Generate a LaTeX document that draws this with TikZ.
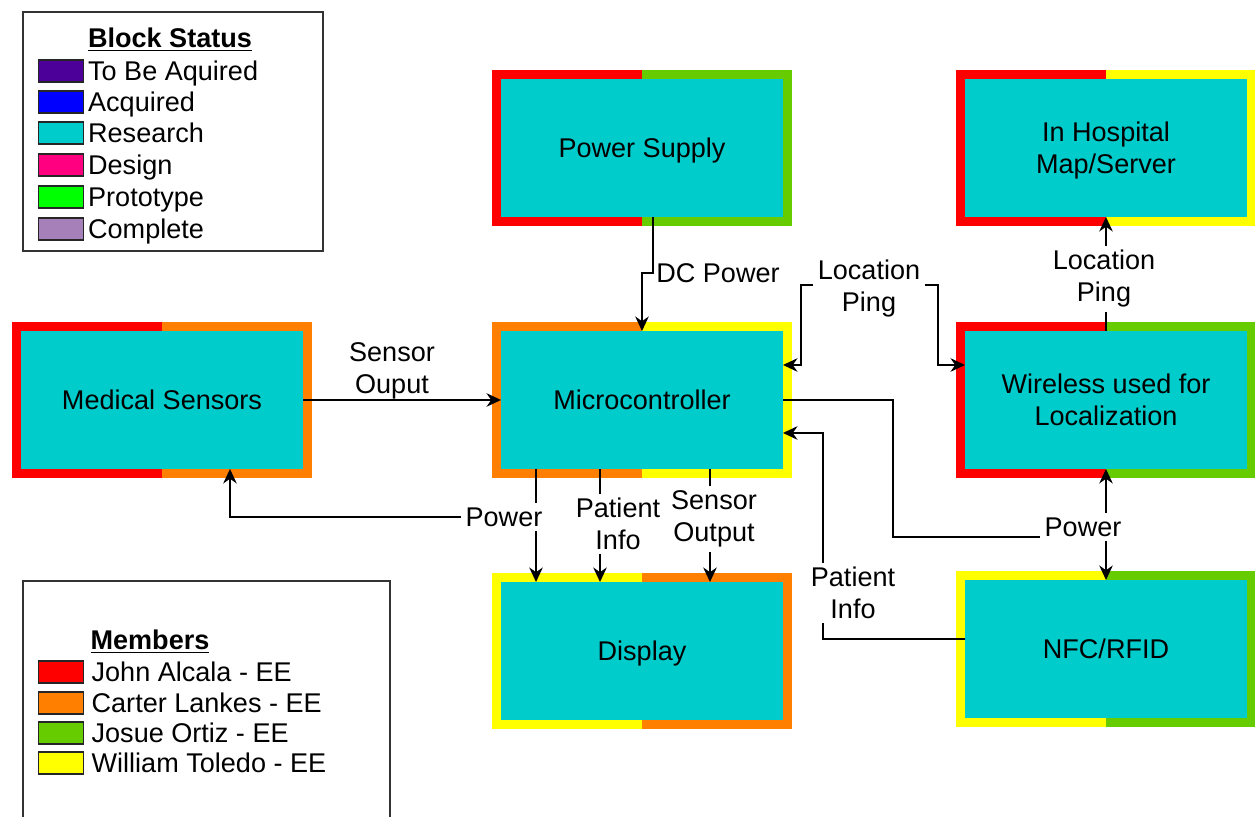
\documentclass[tikz,border=0pt]{standalone}
\usepackage{fontspec}
\setmainfont{Liberation Sans}
\usetikzlibrary{arrows.meta, positioning, calc}
\definecolor{bcyan}{HTML}{00CCCC}
\definecolor{mred}{HTML}{FF0000}
\definecolor{morange}{HTML}{FF8000}
\definecolor{mgreen}{HTML}{66CC00}
\definecolor{myellow}{HTML}{FFFF00}
\definecolor{stindigo}{HTML}{4C0099}
\definecolor{stblue}{HTML}{0000FF}
\definecolor{stpink}{HTML}{FF0080}
\definecolor{stlime}{HTML}{00FF00}
\definecolor{stlilac}{HTML}{A680B8}
\newcommand{\diagfont}{\fontsize{15.4}{18.2}\selectfont}
% two-coloured frame round a block: left half, right half
\newcommand{\splitborder}[3]{%
  \draw[line width=0.18cm, line join=miter, #2]
    ([yshift=0.09cm]#1.north) -- ([shift={(-0.09cm,0.09cm)}]#1.north west)
    -- ([shift={(-0.09cm,-0.09cm)}]#1.south west) -- ([yshift=-0.09cm]#1.south);
  \draw[line width=0.18cm, line join=miter, #3]
    ([yshift=0.09cm]#1.north) -- ([shift={(0.09cm,0.09cm)}]#1.north east)
    -- ([shift={(0.09cm,-0.09cm)}]#1.south east) -- ([yshift=-0.09cm]#1.south);}
\tikzset{
  blockbox/.style={fill=bcyan, minimum width=5.64cm, minimum height=2.76cm,
                   inner sep=0pt, outer sep=0pt, align=center, text depth=0pt},
  lbl/.style={fill=white, inner sep=2.5pt, align=center},
  swatch/.style={draw=black!85, line width=0.9pt, minimum width=0.9cm,
                 minimum height=0.44cm, inner sep=0pt},
  legtext/.style={inner sep=1pt, text depth=0pt},
  arr/.style={-{Stealth[length=2.9mm, width=2.7mm]}, line width=1.1pt},
  darr/.style={{Stealth[length=2.9mm, width=2.7mm]}-{Stealth[length=2.9mm, width=2.7mm]},
               line width=1.1pt},
}
\begin{document}
\begin{tikzpicture}[x=0.02cm, y=0.02cm, every node/.style={font=\diagfont}]
  \useasboundingbox (0,0) rectangle (1255,817);
  % blocks
  \node[blockbox] (ps) at (642,669) {Power Supply};
  \node[blockbox] (mcu) at (642,417) {Microcontroller};
  \node[blockbox] (sens) at (162,417) {Medical Sensors};
  \node[blockbox] (disp) at (642,166) {Display};
  \node[blockbox] (map) at (1106,669) {In Hospital\\Map/Server};
  \node[blockbox] (wifi) at (1106,417) {Wireless used for\\Localization};
  \node[blockbox] (nfc) at (1106,168) {NFC/RFID};
  \splitborder{ps}{mred}{mgreen}
  \splitborder{mcu}{morange}{myellow}
  \splitborder{sens}{mred}{morange}
  \splitborder{disp}{myellow}{morange}
  \splitborder{map}{mred}{myellow}
  \splitborder{wifi}{mred}{mgreen}
  \splitborder{nfc}{myellow}{mgreen}

  % connectors
  \draw[arr] ([xshift=0.22cm]ps.south) -- ++(0,-56) -| (mcu.north);
  \draw[arr] (sens.east) -- (mcu.west);
  \coordinate (pwrknee) at (536,300);
  \draw[arr] ([xshift=-2.12cm]mcu.south) -- (pwrknee) -| ([xshift=1.36cm]sens.south);
  \draw[arr] ([xshift=-2.12cm]mcu.south) -- ([xshift=-2.12cm]disp.north);
  \draw[arr] ([xshift=-0.84cm]mcu.south) -- ([xshift=-0.84cm]disp.north);
  \draw[arr] ([xshift=1.36cm]mcu.south) -- ([xshift=1.36cm]disp.north);
  \draw[darr] ([yshift=0.7cm]mcu.east) -| (801,532) -- (938,532) |- ([yshift=0.7cm]wifi.west);
  \draw[arr] (wifi.north) -- (map.south);
  \coordinate (pwrhub) at (1106,280);
  \draw[arr] (mcu.east) -- ++(110,0) |- (pwrhub) -- (wifi.south);
  \draw[arr] (pwrhub) -- (nfc.north);
  \coordinate (pinfo) at (823,384);
  \draw[arr] ([yshift=0.2cm]nfc.west) -| (pinfo) -- ([yshift=-0.66cm]mcu.east);

  % connector labels
  \node[anchor=west, inner sep=0pt] (lbldc) at (656,544) {DC Power};
  \node[align=center, inner sep=0pt] (lblsens) at (392,446) {Sensor\\Ouput};
  \node[lbl] (lblpwr) at (504,300) {Power};
  \node[lbl] (lblpinfo) at (618,293) {Patient\\Info};
  \node[lbl] (lblsout) at (714,298) {Sensor\\Output};
  \node[lbl] (lblloc) at (869,528) {Location\\Ping};
  \node[lbl] (lblloc2) at (1104,538) {Location\\Ping};
  \node[lbl] (lblpwr2) at (1083,290) {Power};
  \node[lbl] (lblpinfo2) at (853,224) {Patient\\Info};

  % legend: block status
  \draw[line width=1.1pt, black!80] (23,805) rectangle (323,566);
  \node (sttitle) at (170,777) {\underline{\textbf{Block Status}}};
  \node[swatch, fill=stindigo] (sw1) at (61,746) {};
  \node[legtext, right=1pt of sw1] (st1) {To Be Aquired};
  \node[swatch, fill=stblue] (sw2) at (61,715) {};
  \node[legtext, right=1pt of sw2] (st2) {Acquired};
  \node[swatch, fill=bcyan] (sw3) at (61,684) {};
  \node[legtext, right=1pt of sw3] (st3) {Research};
  \node[swatch, fill=stpink] (sw4) at (61,652) {};
  \node[legtext, right=1pt of sw4] (st4) {Design};
  \node[swatch, fill=stlime] (sw5) at (61,620) {};
  \node[legtext, right=1pt of sw5] (st5) {Prototype};
  \node[swatch, fill=stlilac] (sw6) at (61,588) {};
  \node[legtext, right=1pt of sw6] (st6) {Complete};

  % legend: members
  \draw[line width=1.1pt, black!80] (23,236) rectangle (390,-10);
  \node (mbtitle) at (150,175) {\underline{\textbf{Members}}};
  \node[swatch, fill=mred] (mb1) at (61,145) {};
  \node[legtext, right=3pt of mb1] (mt1) {John Alcala - EE};
  \node[swatch, fill=morange] (mb2) at (61,114) {};
  \node[legtext, right=3pt of mb2] (mt2) {Carter Lankes - EE};
  \node[swatch, fill=mgreen] (mb3) at (61,84) {};
  \node[legtext, right=3pt of mb3] (mt3) {Josue Ortiz - EE};
  \node[swatch, fill=myellow] (mb4) at (61,54) {};
  \node[legtext, right=3pt of mb4] (mt4) {William Toledo - EE};
\end{tikzpicture}
\end{document}
